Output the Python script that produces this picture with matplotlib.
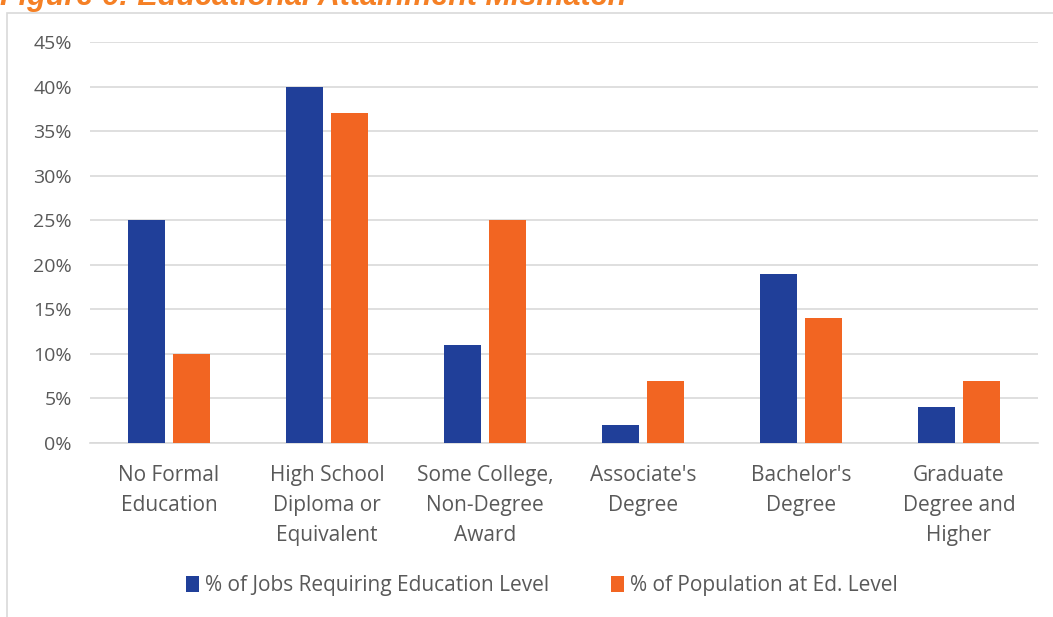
#!/usr/bin/env python3
"""Figure 6: Educational Attainment Mismatch - grouped bar chart."""

import numpy as np
import matplotlib
matplotlib.use('Agg')
import matplotlib.pyplot as plt
from matplotlib.patches import Rectangle

#- data
categories = ['No Formal\nEducation', 'High School\nDiploma or\nEquivalent',
              'Some College,\nNon-Degree\nAward', "Associate's\nDegree",
              "Bachelor's\nDegree", 'Graduate\nDegree and\nHigher']
jobs = [0.25, 0.40, 0.11, 0.02, 0.19, 0.04]
population = [0.10, 0.37, 0.25, 0.07, 0.14, 0.07]
series_names = ['% of Jobs Requiring Education Level',
                '% of Population at Ed. Level']
yticks = [0, 0.05, 0.10, 0.15, 0.20, 0.25, 0.30, 0.35, 0.40, 0.45]

blue = '#203F99'
orange = '#F26522'
grid_col = '#D9D9D9'
text_col = '#595959'

plt.rcParams['font.family'] = ['Open Sans', 'DejaVu Sans']

fig = plt.figure(figsize=(10.53, 6.17), dpi=100)

#- outer chart border (cut off at right and bottom)
fig.patches.append(Rectangle((7 / 1053, -0.1), 1.2, 1.1 - 13 / 617,
                             transform=fig.transFigure, fill=False,
                             edgecolor=grid_col, linewidth=1.2))

#- title, mostly cut off at the top
fig.text(0.0, 1 - 5 / 617, 'Figure 6: Educational Attainment Mismatch',
         color='#F58025', fontsize=22, fontweight='bold', style='italic',
         family='Liberation Sans', va='baseline', ha='left')

ax = fig.add_axes([90 / 1053, 1 - 443 / 617, 948 / 1053, (443 - 42) / 617])

x = np.arange(len(categories))
w = 0.23
ax.bar(x - 0.143, jobs, w, color=blue, label=series_names[0], zorder=3)
ax.bar(x + 0.143, population, w, color=orange, label=series_names[1], zorder=3)

ax.set_xlim(-0.5, len(categories) - 0.5)
ax.set_ylim(0, 0.45)
ax.set_yticks(yticks)
ax.set_yticklabels(['{:.0f}%'.format(v * 100) for v in yticks])
ax.set_xticks(x)
ax.set_xticklabels(categories, linespacing=1.55)
ax.yaxis.grid(True, color=grid_col, linewidth=1.2, zorder=0)
for s in ['top', 'right', 'left']:
    ax.spines[s].set_visible(False)
ax.spines['bottom'].set_color(grid_col)
ax.spines['bottom'].set_linewidth(1.2)
ax.tick_params(axis='both', length=0, colors=text_col)
ax.tick_params(axis='y', pad=13, labelsize=14)
ax.tick_params(axis='x', pad=16, labelsize=15)

fig.legend(loc='center', bbox_to_anchor=(542 / 1053, 1 - 586 / 617),
           ncol=2, frameon=False, fontsize=15, handlelength=0.6,
           handleheight=0.8, handletextpad=0.3, columnspacing=3.0,
           labelcolor=text_col)

fig.savefig('out.png', dpi=100)
